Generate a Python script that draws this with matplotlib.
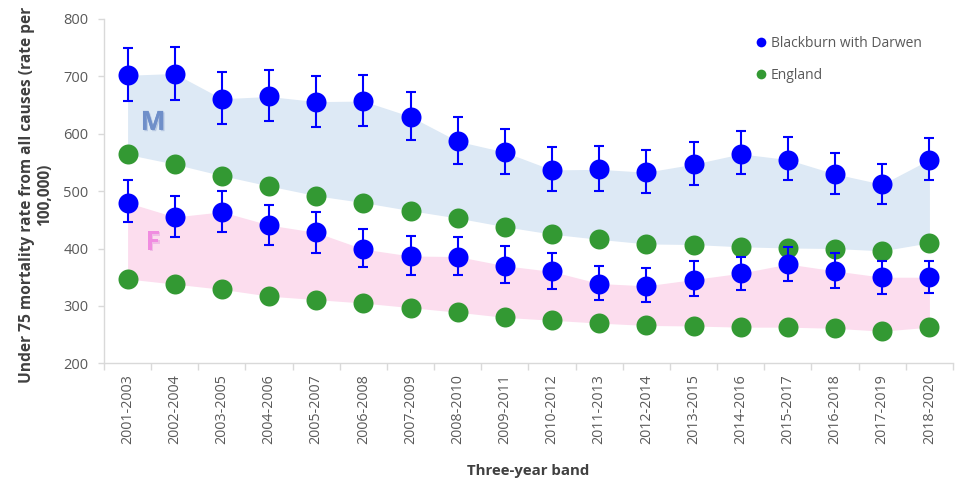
import matplotlib
matplotlib.use("Agg")
import matplotlib.pyplot as plt
import matplotlib.patheffects as pe
import numpy as np

bands = ["2001-2003", "2002-2004", "2003-2005", "2004-2006", "2005-2007", "2006-2008",
         "2007-2009", "2008-2010", "2009-2011", "2010-2012", "2011-2013", "2012-2014",
         "2013-2015", "2014-2016", "2015-2017", "2016-2018", "2017-2019", "2018-2020"]

# Blackburn with Darwen, males: rate and 95% confidence limits
bwd_male = [702, 705, 661, 665, 656, 657, 630, 587, 568, 537, 538, 533, 547, 565, 555, 530, 512, 555]
bwd_male_lo = [657, 659, 617, 622, 612, 613, 589, 548, 530, 501, 501, 497, 511, 530, 520, 495, 478, 520]
bwd_male_hi = [750, 752, 707, 711, 700, 702, 672, 629, 608, 577, 578, 571, 586, 604, 594, 567, 548, 593]

# Blackburn with Darwen, females: rate and 95% confidence limits
bwd_female = [480, 455, 464, 441, 428, 399, 387, 386, 370, 360, 339, 335, 346, 357, 373, 361, 350, 350]
bwd_female_lo = [446, 420, 428, 406, 393, 367, 354, 354, 340, 329, 310, 306, 318, 327, 343, 332, 321, 322]
bwd_female_hi = [519, 492, 501, 476, 464, 434, 421, 420, 404, 392, 370, 366, 379, 386, 402, 392, 379, 379]

# England comparators
eng_male = [564, 547, 527, 509, 492, 480, 466, 453, 438, 425, 416, 408, 407, 403, 401, 400, 396, 410]
eng_female = [347, 338, 329, 317, 311, 305, 297, 289, 280, 275, 270, 266, 265, 263, 263, 261, 256, 263]

BLUE = "#0000FF"
GREEN = "#339933"
GREY_TXT = "#595959"
AXIS_GREY = "#D9D9D9"

plt.rcParams["font.family"] = ["Open Sans", "DejaVu Sans"]

fig = plt.figure(figsize=(9.70, 4.82), dpi=100)
ax = fig.add_axes([104 / 970, 1 - 363.3 / 482, (953 - 104) / 970, (363.3 - 19) / 482])

x = np.arange(len(bands))

ax.fill_between(x, bwd_male, eng_male, color="#DDE9F5", lw=0, zorder=1)
ax.fill_between(x, bwd_female, eng_female, color="#FCDDEE", lw=0, zorder=1)

ax.plot(x, eng_male, "o", color=GREEN, ms=14.4, mec="none", zorder=3)
ax.plot(x, eng_female, "o", color=GREEN, ms=14.4, mec="none", zorder=3)

for vals, lo, hi in [(bwd_male, bwd_male_lo, bwd_male_hi),
                     (bwd_female, bwd_female_lo, bwd_female_hi)]:
    v = np.array(vals)
    yerr = np.vstack([v - np.array(lo), np.array(hi) - v])
    ax.errorbar(x, v, yerr=yerr, fmt="o", color=BLUE, ms=14.4, mec="none",
                elinewidth=1.5, capsize=3.3, capthick=1.5, zorder=4)

# Sex labels on the shaded bands
ax.text(0.54, 620, "M", color="#6F8FC9", fontsize=19, fontweight="bold",
        ha="center", va="center", zorder=2,
        path_effects=[pe.withSimplePatchShadow(offset=(1, -1), shadow_rgbFace="#9FB3D6", alpha=0.6),
                      pe.Normal()])
ax.text(0.54, 411, "F", color="#F08CE0", fontsize=19, fontweight="bold",
        ha="center", va="center", zorder=2,
        path_effects=[pe.withSimplePatchShadow(offset=(1, -1), shadow_rgbFace="#E8A8E0", alpha=0.6),
                      pe.Normal()])

ax.set_xlim(-0.5, len(bands) - 0.5)
ax.set_ylim(200, 800)
ax.set_yticks(range(200, 801, 100))
ax.set_xticks(x)
ax.set_xticklabels(bands, rotation=90, fontsize=10.3, color=GREY_TXT)
ax.set_xticks(np.arange(-0.5, len(bands)), minor=True)
ax.tick_params(axis="x", which="major", length=0, pad=8)
ax.tick_params(axis="x", which="minor", length=5, color=AXIS_GREY, width=1)
ax.tick_params(axis="y", length=4, color=AXIS_GREY, width=1,
               labelsize=10.5, labelcolor=GREY_TXT, pad=7)

for side in ["top", "right"]:
    ax.spines[side].set_visible(False)
ax.spines["left"].set_color(AXIS_GREY)
ax.spines["bottom"].set_color(AXIS_GREY)
ax.spines["left"].set_linewidth(1)
ax.spines["bottom"].set_linewidth(1)

ax.set_ylabel("Under 75 mortality rate from all causes (rate per\n100,000)",
              fontsize=11.2, fontweight="bold", color="#404040", labelpad=9,
              linespacing=1.15)
ax.yaxis.set_label_coords(-0.060, 0.49)
ax.set_xlabel("Three-year band", fontsize=10.8, fontweight="bold", color="#404040", labelpad=14)

leg_handles = [
    plt.Line2D([], [], ls="none", marker="o", color=BLUE, ms=7, mec="none"),
    plt.Line2D([], [], ls="none", marker="o", color=GREEN, ms=7, mec="none"),
]
leg = ax.legend(leg_handles, ["Blackburn with Darwen", "England"], loc="upper left",
                bbox_to_anchor=(0.751, 0.988), frameon=False, fontsize=10,
                handletextpad=0.2, labelspacing=1.25, handlelength=1.0)
for t in leg.get_texts():
    t.set_color(GREY_TXT)

fig.savefig("out.png", dpi=100, facecolor="white")
